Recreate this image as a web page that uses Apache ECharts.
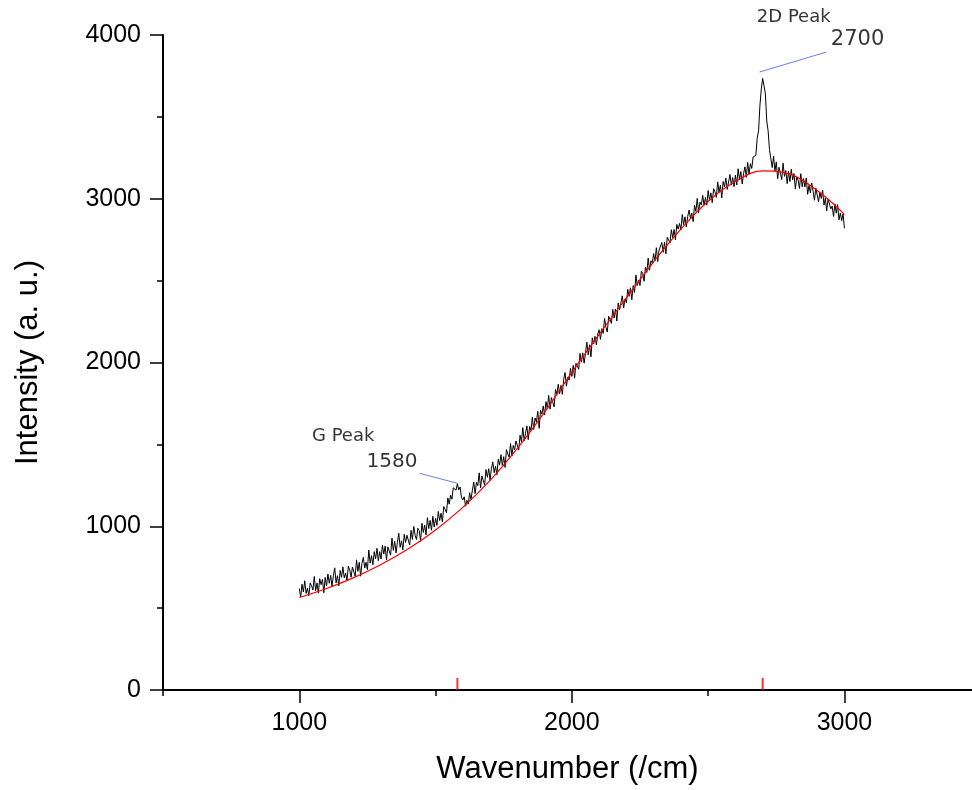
<!DOCTYPE html>
<html>
<head>
<meta charset="utf-8">
<script src="https://cdn.jsdelivr.net/npm/echarts@6/dist/echarts.min.js"></script>
<style>
  html, body { margin: 0; background: #fff; }
  #chart { width: 972px; height: 790px; }
</style>
</head>
<body>
<div id="chart"></div>
<script>
// Raman spectrum (1000..3000 /cm, step 5)
var xStart = 1000;
var xStep = 5;
var intensity = [
  620,568,646,599,667,590,623,576,654,637,610,693,606,654,592,680,643,676,594,687,
  635,708,652,700,634,697,746,654,698,636,730,688,752,685,714,667,756,734,688,751,
  740,695,795,725,780,695,775,810,745,780,735,855,775,820,765,845,800,865,790,845,
  800,885,830,879,794,874,863,823,928,853,908,837,902,957,871,911,856,951,901,945,
  940,885,975,919,999,944,919,988,973,908,1018,962,1007,947,1052,986,1036,976,1061,995,
  1050,1005,1090,1035,1080,1027,1120,1103,1082,1173,1135,1190,1165,1235,1232,1220,1260,1222,1240,1175,
  1160,1180,1122,1158,1135,1205,1163,1220,1270,1200,1268,1248,1326,1234,1307,1295,1253,1346,1299,1352,
  1280,1354,1393,1327,1366,1315,1409,1373,1437,1371,1425,1359,1468,1442,1421,1505,1429,1493,1467,1521,
  1520,1465,1556,1516,1602,1522,1568,1613,1529,1609,1585,1665,1591,1661,1637,1702,1598,1708,1684,1734,
  1680,1761,1717,1799,1715,1786,1787,1729,1835,1806,1867,1809,1860,1806,1897,1939,1855,1911,1892,1964,
  1915,1982,1904,1995,1992,1959,2056,2002,2059,1996,2058,2124,2046,2108,2035,2151,2113,2160,2107,2173,
  2200,2141,2207,2178,2269,2215,2186,2282,2263,2239,2325,2271,2327,2253,2364,2320,2366,2407,2333,2389,
  2365,2447,2404,2456,2383,2470,2427,2534,2471,2503,2470,2557,2544,2496,2583,2550,2637,2564,2621,2608,
  2665,2620,2701,2616,2687,2677,2733,2673,2734,2664,2765,2755,2731,2811,2762,2812,2748,2843,2814,2849,
  2810,2903,2842,2890,2829,2892,2931,2879,2913,2861,2960,2923,3002,2915,2979,2962,3021,2959,3008,2961,
  3050,2990,3036,2976,3062,3042,3008,3103,3039,3084,3005,3105,3071,3126,3057,3102,3148,3083,3129,3074,
  3145,3084,3183,3117,3166,3090,3155,3195,3131,3222,3150,3215,3185,3255,3260,3265,3370,3415,3570,3670,
  3735,3690,3640,3475,3415,3300,3295,3190,3260,3170,3225,3123,3192,3202,3117,3217,3137,3172,3092,3167,
  3105,3180,3115,3154,3059,3134,3114,3063,3153,3073,3123,3072,3127,3027,3082,3036,3096,3046,2991,3065,
  3065,2982,3040,3002,3054,2961,3004,2926,2998,3005,2938,2955,2892,2969,2912,2964,2871,2913,2866,2908,
  2820
];

// fitted background (red)
var baseX = [1000,1100,1200,1300,1400,1500,1600,1700,1800,1900,2000,2100,2200,2300,2400,2500,2600,2700,2800,2900,3000];
var baseY = [565,620,686,766,862,977,1115,1280,1475,1697,1940,2172,2395,2615,2815,2985,3105,3170,3150,3050,2905];

// peak markers on the axis
var peakX = [1580, 2700];

// annotations
var labelText = ['G Peak', '1580', '2D Peak', '2700'];
var labelPos = [[1161, 1549], [1340, 1396], [2814, 4107], [3048, 3970]];
var labelSize = [18, 20, 18, 21];
var leaderLines = [
  [[1442, 1323], [1581, 1262]],
  [[2689, 3774], [2934, 3896]]
];

var xMajor = [1000, 2000, 3000];
var xMinor = [500, 1500, 2500];
var yMajor = [0, 1000, 2000, 3000, 4000];
var yMinor = [500, 1500, 2500, 3500];

var spectrum = intensity.map(function (v, i) { return [xStart + i * xStep, v]; });
var baseline = baseX.map(function (x, i) { return [x, baseY[i]]; });

var myChart = echarts.init(document.getElementById('chart'));
var axisFont = 'Liberation Sans, Arial, sans-serif';
var plain = function (v) { return String(v); };
var option = {
  animation: false,
  backgroundColor: '#fff',
  grid: { left: 163, right: 0, top: 35, bottom: 99 },
  xAxis: [
    {
      type: 'value', min: 500, max: 3468, interval: 500,
      axisLine: { onZero: false, lineStyle: { color: '#000', width: 2 } },
      axisTick: { customValues: xMajor, length: 13, lineStyle: { color: '#000', width: 1.5 } },
      axisLabel: { customValues: xMajor, formatter: plain, color: '#000', fontSize: 25, fontFamily: axisFont, margin: 21 },
      splitLine: { show: false },
      name: 'Wavenumber (/cm)', nameLocation: 'middle', nameGap: 64,
      nameTextStyle: { color: '#000', fontSize: 31, fontFamily: axisFont }
    },
    {
      type: 'value', min: 500, max: 3468, interval: 500, position: 'bottom',
      axisLine: { show: false },
      axisTick: { customValues: xMinor, length: 6, lineStyle: { color: '#000', width: 1.5 } },
      axisLabel: { show: false },
      splitLine: { show: false }
    }
  ],
  yAxis: [
    {
      type: 'value', min: 0, max: 4000, interval: 500,
      axisLine: { show: true, lineStyle: { color: '#000', width: 2 } },
      axisTick: { show: true, customValues: yMajor, length: 13, lineStyle: { color: '#000', width: 1.5 } },
      axisLabel: { customValues: yMajor, formatter: plain, color: '#000', fontSize: 25, fontFamily: axisFont, margin: 22 },
      splitLine: { show: false },
      name: 'Intensity (a. u.)', nameLocation: 'middle', nameGap: 119,
      nameTextStyle: { color: '#000', fontSize: 31, fontFamily: axisFont }
    },
    {
      type: 'value', min: 0, max: 4000, interval: 500, position: 'left',
      axisLine: { show: false },
      axisTick: { show: true, customValues: yMinor, length: 6, lineStyle: { color: '#000', width: 1.5 } },
      axisLabel: { show: false },
      splitLine: { show: false }
    }
  ],
  series: [
    {
      type: 'line', data: spectrum, showSymbol: false, symbol: 'none', sampling: null,
      lineStyle: { color: '#000', width: 1 }, z: 2
    },
    {
      type: 'line', data: baseline, smooth: 0.4, showSymbol: false, symbol: 'none',
      lineStyle: { color: '#ff0000', width: 1.2 }, z: 3
    },
    {
      type: 'scatter', clip: false, symbol: 'rect', symbolSize: [2, 12], symbolOffset: [0, -6],
      itemStyle: { color: '#ff0000' }, silent: true, z: 4,
      data: peakX.map(function (x) { return [x, 0]; })
    },
    {
      type: 'scatter', clip: false, symbolSize: 0, silent: true, z: 5,
      data: labelText.map(function (t, i) {
        return {
          name: t, value: labelPos[i],
          label: { show: true, position: 'inside', formatter: '{b}', color: '#000',
                   fontSize: labelSize[i], fontFamily: 'DejaVu Sans, Verdana, sans-serif' }
        };
      }),
      markLine: {
        silent: true, symbol: 'none', animation: false,
        label: { show: false },
        lineStyle: { color: '#6a7ef0', width: 1, type: 'solid' },
        data: leaderLines.map(function (seg) {
          return [{ coord: seg[0] }, { coord: seg[1] }];
        })
      }
    }
  ]
};
myChart.setOption(option);
window.addEventListener('resize', function () {
  myChart.resize();
});
</script>
</body>
</html>
